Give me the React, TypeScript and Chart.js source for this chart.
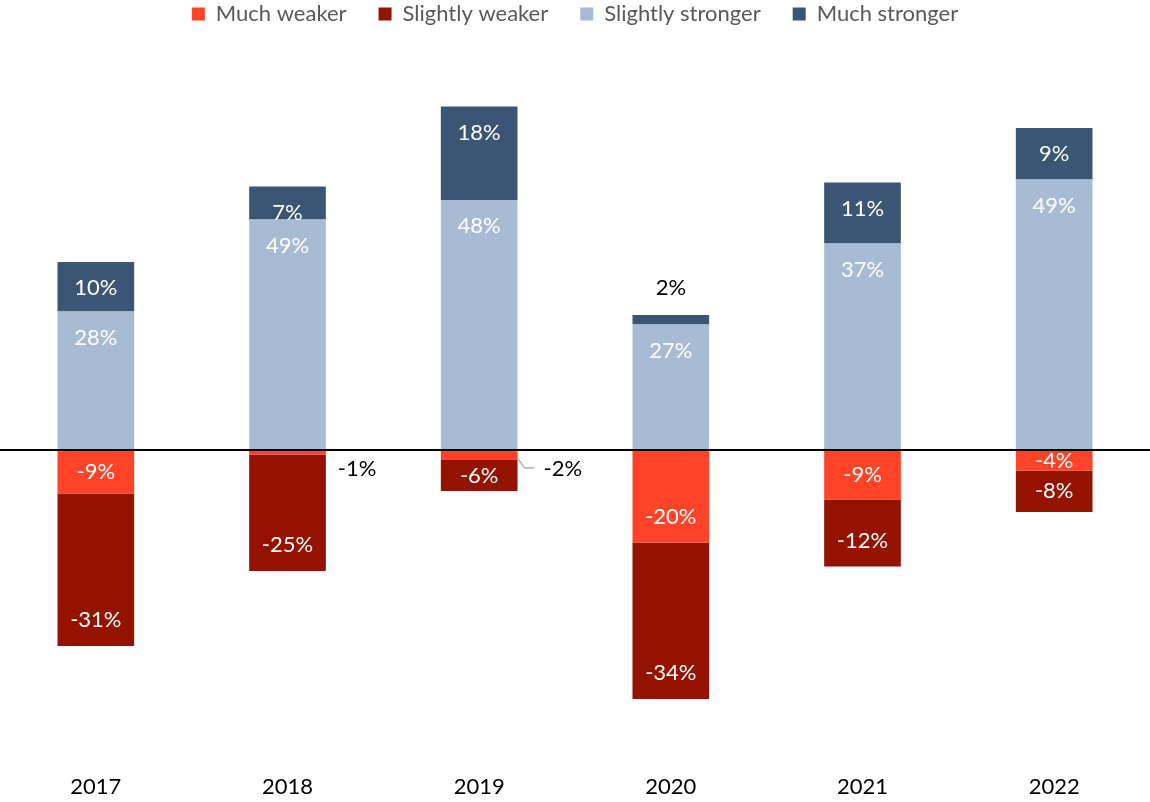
import React, { useEffect, useRef } from "react";
import { Chart, registerables } from "chart.js";

Chart.register(...registerables);

// ---------- data ----------
const years = ["2017", "2018", "2019", "2020", "2021", "2022"];
const seriesNames = ["Much weaker", "Slightly weaker", "Slightly stronger", "Much stronger"];

// bar segment lengths as drawn in the picture (chart units)
const muchWeaker = [-8.7, -0.9, -2.0, -18.5, -9.9, -4.1];
const slightlyWeaker = [-30.5, -23.3, -6.2, -31.3, -13.4, -8.3];
const slightlyStronger = [27.7, 46.1, 50.0, 25.1, 41.3, 54.1];
const muchStronger = [9.9, 6.6, 18.7, 1.9, 12.2, 10.3];

// percentages printed on the segments
const muchWeakerPct = [-9, -1, -2, -20, -9, -4];
const slightlyWeakerPct = [-31, -25, -6, -34, -12, -8];
const slightlyStrongerPct = [28, 49, 48, 27, 37, 49];
const muchStrongerPct = [10, 7, 18, 2, 11, 9];

// ---------- styling ----------
const FONT = "Lato, 'Open Sans', sans-serif";
const FONT_SIZE = 22;
const colors = ["#FF4328", "#941200", "#A7BCD4", "#3A5674"];
const Y_MIN = -62.74;
const Y_MAX = 83.0;

const pctSets = [muchWeakerPct, slightlyWeakerPct, slightlyStrongerPct, muchStrongerPct];

const labelPlugin = {
  id: "segmentLabels",
  afterDatasetsDraw(chart: any) {
    const ctx = chart.ctx;
    const yScale = chart.scales.y;
    const zero = yScale.getPixelForValue(0);
    ctx.save();
    ctx.font = `${FONT_SIZE}px ${FONT}`;
    ctx.textBaseline = "middle";
    chart.data.datasets.forEach((_ds: any, di: number) => {
      const meta = chart.getDatasetMeta(di);
      const pcts = pctSets[di];
      meta.data.forEach((el: any, i: number) => {
        const { x, y, base, width } = el.getProps(["x", "y", "base", "width"], true);
        const text = `${pcts[i]}%`;
        const top = Math.min(y, base);
        const bottom = Math.max(y, base);
        const h = bottom - top;
        const right = x + width / 2;
        if (h < 12) {
          ctx.fillStyle = "#000000";
          if (pcts[i] >= 0) {
            ctx.textAlign = "center";
            ctx.fillText(text, x, top - 27);
          } else {
            const ly = zero + 19;
            ctx.textAlign = "left";
            if (h > 7) {
              // leader line
              ctx.strokeStyle = "#A6A6A6";
              ctx.lineWidth = 1.2;
              ctx.beginPath();
              ctx.moveTo(right, bottom - 2);
              ctx.lineTo(right + 7, ly - 1);
              ctx.lineTo(right + 17, ly - 1);
              ctx.stroke();
              ctx.fillText(text, right + 26, ly);
            } else {
              ctx.fillText(text, right + 12, ly);
            }
          }
          return;
        }
        ctx.fillStyle = "#FFFFFF";
        ctx.textAlign = "center";
        let ly;
        if (pcts[i] >= 0) {
          ly = top + 26;
        } else {
          ly = Math.max(bottom - 26, (top + bottom) / 2);
        }
        ctx.fillText(text, x, ly);
      });
    });
    ctx.restore();
  },
};

export default function App() {
  const canvasRef = useRef<HTMLCanvasElement | null>(null);

  useEffect(() => {
    if (!canvasRef.current) return;
    const values = [muchWeaker, slightlyWeaker, slightlyStronger, muchStronger];
    const chart = new Chart(canvasRef.current, {
      type: "bar",
      data: {
        labels: years,
        datasets: seriesNames.map((name, k) => ({
          label: name,
          data: values[k],
          backgroundColor: colors[k],
          borderWidth: 0,
          barPercentage: 0.4,
          categoryPercentage: 1,
        })),
      },
      options: {
        responsive: false,
        animation: false,
        layout: { padding: { top: -29, bottom: -8, left: 0, right: 0 } },
        plugins: {
          legend: {
            position: "top",
            labels: {
              boxWidth: 13,
              boxHeight: 13,
              padding: 32,
              color: "#595959",
              font: { family: FONT, size: FONT_SIZE },
            },
          },
          tooltip: { enabled: false },
        },
        scales: {
          x: {
            stacked: true,
            grid: { display: false, drawTicks: false },
            border: { display: false },
            ticks: { color: "#000000", font: { family: FONT, size: FONT_SIZE }, padding: 10 },
          },
          y: {
            stacked: true,
            min: Y_MIN,
            max: Y_MAX,
            z: 1,
            grid: {
              drawTicks: false,
              color: (c: any) => (Math.abs(c.tick.value) < 1e-9 ? "#000000" : "rgba(0,0,0,0)"),
              lineWidth: (c: any) => (Math.abs(c.tick.value) < 1e-9 ? 2 : 0),
            },
            border: { display: false },
            ticks: { display: false, stepSize: 10 },
          },
        },
      },
      plugins: [labelPlugin],
    });
    return () => chart.destroy();
  }, []);

  return (
    <div style={{ position: "absolute", left: 0, top: 0, width: 1150, height: 802, background: "#fff" }}>
      <canvas ref={canvasRef} width={1150} height={802} style={{ width: 1150, height: 802 }} />
    </div>
  );
}
